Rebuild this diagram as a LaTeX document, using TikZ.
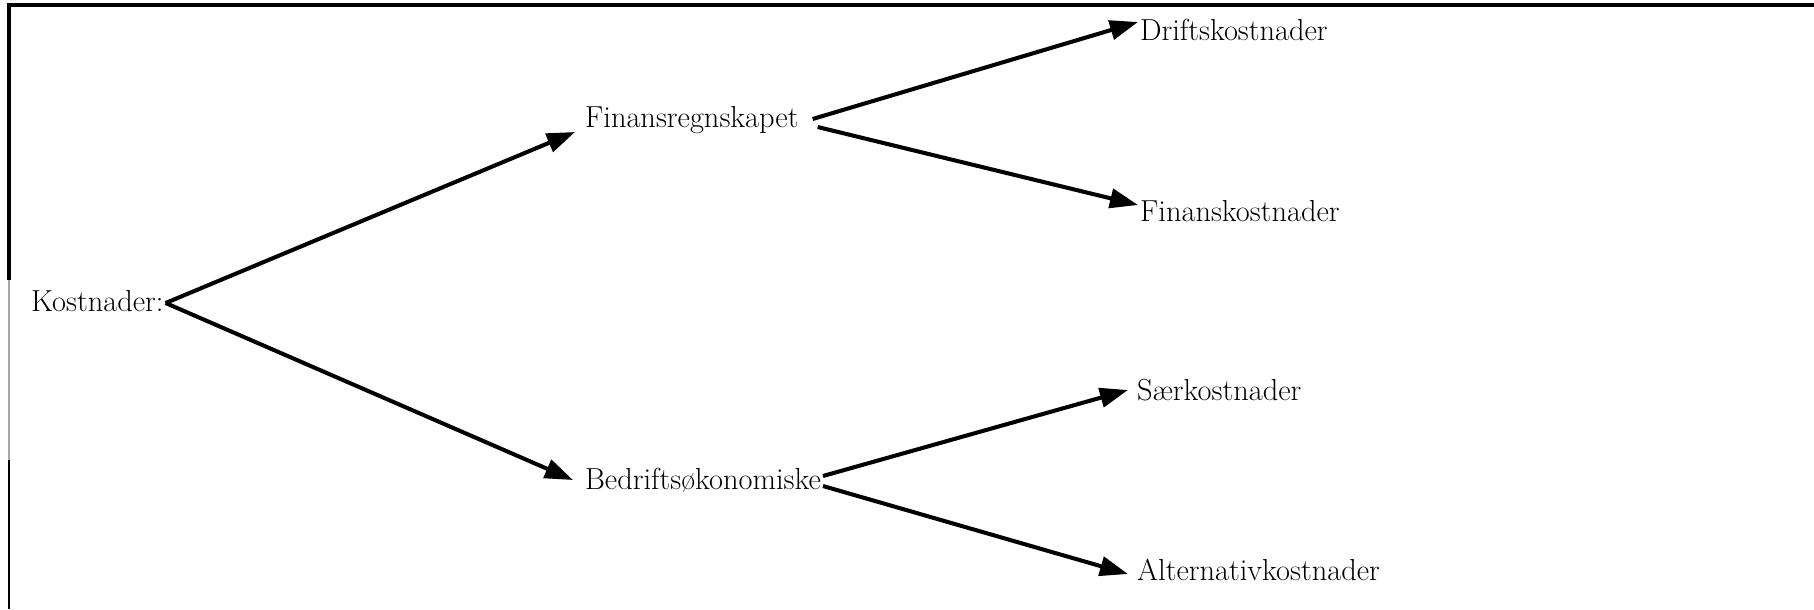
\documentclass[tikz,border=0pt]{standalone}
\usetikzlibrary{arrows.meta}

\tikzset{
  costlabel/.style={anchor=west, inner sep=1pt, font=\fontsize{17.3}{20}\selectfont},
  branch/.style={line width=2.3pt, -{Triangle[length=16pt,width=11pt]}},
}

\begin{document}
\begin{tikzpicture}[x=0.02cm,y=-0.02cm]
\useasboundingbox (0,0) rectangle (1814,609);

% frame (top and left only)
\draw[line width=2pt] (1814,5) -- (9,5) -- (9,280);
\draw[gray!70, line width=0.6pt] (9,280) -- (9,460);
\draw[line width=1.4pt] (9,460) -- (9,609);

% nodes
\node[costlabel] (kost) at (29,301) {Kostnader:};
\node[costlabel] (fin) at (583,120) {Finansregnskapet};
\node[costlabel] (bed) at (583,480) {Bedriftsøkonomiske};
\node[costlabel] (drift) at (1138,30) {Driftskostnader};
\node[costlabel] (finkost) at (1138,211) {Finanskostnader};
\node[costlabel] (saer) at (1135,390) {Særkostnader};
\node[costlabel] (alt) at (1135,570) {Alternativkostnader};

% branches
\draw[branch] ([yshift=-0.04cm]kost.east) -- ([xshift=-0.16cm,yshift=-0.24cm]fin.west);
\draw[branch] ([yshift=-0.04cm]kost.east) -- ([xshift=-0.2cm]bed.west);

\draw[branch] ([xshift=0.24cm,yshift=0.02cm]fin.east) -- ([yshift=0.16cm]drift.west);
\draw[branch] ([xshift=0.34cm,yshift=-0.14cm]fin.east) -- ([yshift=0.12cm]finkost.west);

\draw[branch] ([yshift=0.08cm]bed.east) -- ([xshift=-0.14cm]saer.west);
\draw[branch] ([yshift=-0.12cm]bed.east) -- ([xshift=-0.14cm,yshift=-0.08cm]alt.west);
\end{tikzpicture}
\end{document}
